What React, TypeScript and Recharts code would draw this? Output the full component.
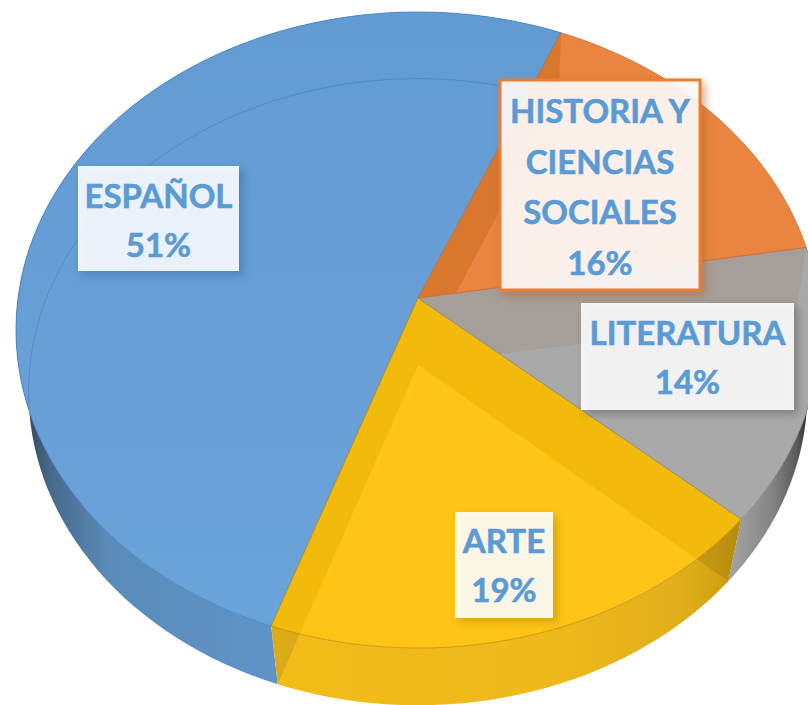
import { PieChart, Pie } from 'recharts';

const CATEGORIES = ['ESPAÑOL', 'ARTE', 'LITERATURA', 'HISTORIA Y CIENCIAS SOCIALES'];
const VALUES = [51, 19, 14, 16];
const LABEL_LINES = [['ESPAÑOL'], ['ARTE'], ['LITERATURA'], ['HISTORIA Y', 'CIENCIAS', 'SOCIALES']];

const chartData = CATEGORIES.map((name, i) => ({ name, value: VALUES[i] }));

// projection of the flat pie onto the tilted top face and the bottom face
const TOP = { dy: 0, rx: 1, ry: 0.787, k: 0.1006 };
const BOTTOM = { dy: 67, rx: 0.97, ry: 0.7775, k: 0.086 };

const STYLES = [
  { top: 'url(#topBlue)', band: '#639cd3', line: '#3f7fc0', stops: [[0, '#2b3a4a'], [0.12, '#47688a'], [0.35, '#5a8bb8'], [1, '#6094c8']] },
  { top: '#ffc416', band: '#f2bb0b', line: '#b98e07', stops: [[0, '#f2bc18'], [0.6, '#eeb91c'], [0.88, '#e0ae1a'], [1, '#c99a0e']] },
  { top: '#a9a9a9', band: '#a69e98', line: '#8c8c8c', stops: [[0, '#a0a0a0'], [0.5, '#858585'], [0.85, '#5a5a5a'], [1, '#2a2a2a']] },
  { top: '#e98540', band: '#d9772f', line: '#d06e28', stops: [[0, '#d9772f'], [1, '#d9772f']] },
];

const WALL_RANGE = [[18, 275], [268, 740], [735, 808], [560, 808]];

const BOXES = [
  { x: 78, y: 166, w: 161, h: 105, lineY: 196, border: false, shadow: '#2f6299' },
  { x: 455, y: 512, w: 98, h: 106, lineY: 541, border: false, shadow: '#a57f00' },
  { x: 581, y: 303, w: 213, h: 107, lineY: 333, border: false, shadow: '#555555' },
  { x: 500, y: 80, w: 200, h: 210, lineY: 111, border: true, shadow: '#b5602a' },
];

const rad = (deg: number) => (deg * Math.PI) / 180;

function project(cx: number, cy: number, r: number, face: typeof TOP, deg: number) {
  const c = Math.cos(rad(deg));
  const s = Math.sin(rad(deg));
  const d = 1 + face.k * s;
  return [cx + (r * face.rx * c) / d, cy + face.dy - (r * face.ry * s) / d];
}

function rim(cx: number, cy: number, r: number, face: typeof TOP, from: number, to: number) {
  const pts = [];
  const n = Math.max(2, Math.ceil(Math.abs(to - from) / 2));
  for (let i = 0; i <= n; i++) {
    pts.push(project(cx, cy, r, face, from + ((to - from) * i) / n));
  }
  return pts;
}

const toPath = (pts: number[][]) => 'M' + pts.map((p) => `${p[0].toFixed(1)},${p[1].toFixed(1)}`).join('L') + 'Z';
const toLine = (pts: number[][]) => 'M' + pts.map((p) => `${p[0].toFixed(1)},${p[1].toFixed(1)}`).join('L');

function SliceShape(props: any) {
  const { cx, cy, outerRadius: r, startAngle: a1, endAngle: a2, name } = props;
  const i = CATEGORIES.indexOf(name);
  const st = STYLES[i];
  const apexTop = [cx, cy];
  const apexBottom = [cx, cy + BOTTOM.dy];
  const topRim = rim(cx, cy, r, TOP, a1, a2);
  const bottomRim = rim(cx, cy, r, BOTTOM, a1, a2);
  const topPath = toPath([apexTop, ...topRim]);
  const wallPath = toPath([...topRim, ...bottomRim.slice().reverse()]);
  const quad = (deg: number) =>
    toPath([apexTop, project(cx, cy, r, TOP, deg), project(cx, cy, r, BOTTOM, deg), apexBottom]);
  const bands = quad(a1) + quad(a2);
  // the far edge of the bottom face shows through the top
  const backEnd = Math.min(a2, 188);
  const showInner = a1 < 188 || a1 > 360;
  // the last slice sits entirely at the back, so its wall is never seen
  const hasWall = a1 < 360;
  return (
    <g>
      <defs>
        <linearGradient id={`wall${i}`} gradientUnits="userSpaceOnUse" x1={WALL_RANGE[i][0]} x2={WALL_RANGE[i][1]} y1="0" y2="0">
          {st.stops.map((s, j) => (
            <stop key={j} offset={s[0]} stopColor={s[1] as string} />
          ))}
        </linearGradient>
        <linearGradient id="topBlue" gradientUnits="userSpaceOnUse" x1="0" x2="0" y1="5" y2="640">
          <stop offset="0" stopColor="#629bd2" />
          <stop offset="0.55" stopColor="#699ed6" />
          <stop offset="1" stopColor="#69a4d9" />
        </linearGradient>
        <clipPath id={`clipTop${i}`}>
          <path d={topPath} />
        </clipPath>
        <clipPath id={`clipWall${i}`}>
          <path d={wallPath} />
        </clipPath>
      </defs>
      {hasWall && <path d={wallPath} fill={`url(#wall${i})`} />}
      {hasWall && <path d={bands} fill="#000" fillOpacity={0.09} clipPath={`url(#clipWall${i})`} />}
      <path d={topPath} fill={st.top} />
      <path d={bands} fill={st.band} clipPath={`url(#clipTop${i})`} />
      {showInner && (
        <path
          d={toLine(rim(cx, cy, r, BOTTOM, a1, backEnd))}
          fill="none"
          stroke={st.line}
          strokeOpacity={0.55}
          clipPath={`url(#clipTop${i})`}
        />
      )}
      <path d={topPath} fill="none" stroke={st.line} strokeOpacity={0.75} strokeWidth={1} />
    </g>
  );
}

function SliceLabel(props: any) {
  const i = props.index;
  const box = BOXES[i];
  const lines = [...LABEL_LINES[i], `${VALUES[i]}%`];
  const spacing = i === 3 ? 50.5 : 49;
  return (
    <g>
      <rect
        x={box.x}
        y={box.y}
        width={box.w}
        height={box.h}
        fill="#ffffff"
        fillOpacity={0.89}
        stroke={box.border ? '#ed7d31' : 'none'}
        strokeWidth={3}
        style={{ filter: `drop-shadow(4px 4px 4px ${box.shadow}88)` }}
      />
      {lines.map((t, j) => (
        <text
          key={j}
          x={box.x + box.w / 2}
          y={box.lineY + 12 + j * spacing}
          textAnchor="middle"
          fontFamily="Lato"
          fontWeight={700}
          fontSize={33}
          fill="#5b9bd5"
          stroke="#5b9bd5"
          strokeWidth={0.6}
        >
          {t}
        </text>
      ))}
    </g>
  );
}

export default function App() {
  return (
    <div style={{ position: 'absolute', left: 0, top: 0, width: 808, height: 705, overflow: 'hidden', background: '#fff' }}>
      <PieChart width={808} height={705} margin={{ top: 0, right: 0, bottom: 0, left: 0 }}>
        <Pie
          data={chartData}
          dataKey="value"
          nameKey="name"
          cx={418}
          cy={298}
          innerRadius={0}
          outerRadius={400}
          startAngle={67}
          endAngle={427}
          stroke="none"
          shape={SliceShape}
          label={SliceLabel}
          labelLine={false}
          isAnimationActive={false}
        />
      </PieChart>
    </div>
  );
}
